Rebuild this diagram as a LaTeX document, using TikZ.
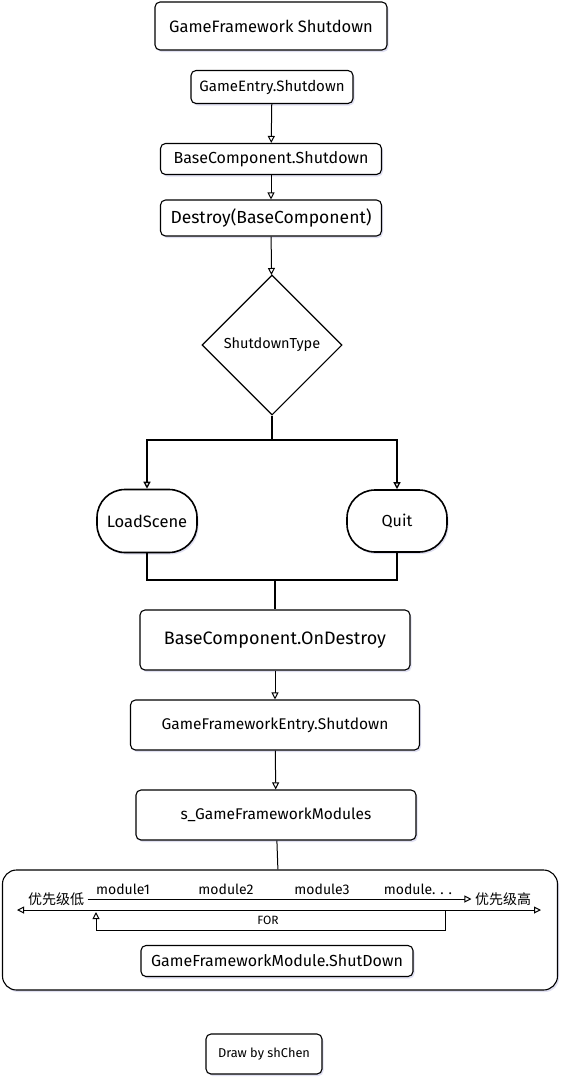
\documentclass[tikz,border=0pt]{standalone}
\usepackage{fontspec}
\setmainfont{Fira Sans}
\newfontfamily\cjk{Noto Sans CJK SC}
\usetikzlibrary{arrows.meta,shapes.geometric,shadows}

\tikzset{
  box/.style={draw,line width=1.1pt,rounded corners=5pt,fill=white,inner sep=0pt,
    drop shadow={opacity=0.18,fill=blue!40!gray,shadow xshift=1.5pt,shadow yshift=-2pt}},
  flow/.style={line width=1pt,-{Triangle[open,length=7pt,width=7pt]}},
  wire/.style={line width=1.3pt},
  fs/.style={font=\fontsize{#1}{#1}\selectfont}
}

\begin{document}
\begin{tikzpicture}[x=1pt,y=-1pt]
\useasboundingbox (0,0) rectangle (568,1085);
\node[box,fs=16.5,minimum width=232,minimum height=48] (title) at (271,26){GameFramework Shutdown};
\node[box,fs=15,minimum width=162,minimum height=33] (entry) at (272,87){GameEntry.Shutdown};
\node[box,fs=16,minimum width=221,minimum height=31] (base) at (271,159){BaseComponent.Shutdown};
\node[box,fs=17.5,minimum width=221,minimum height=36] (destroy) at (271,218){Destroy(BaseComponent)};
\node[draw,line width=1.1pt,diamond,aspect=1,minimum width=140,minimum height=140,inner sep=0pt,fs=14.5] (type) at (272,345){ShutdownType};
\node[box,fs=16.5,rounded corners=28pt,line width=1.6pt,minimum width=100,minimum height=63] (load) at (147,521){LoadScene};
\node[box,fs=16,rounded corners=28pt,line width=1.6pt,minimum width=100,minimum height=62] (quit) at (397,521){Quit};
\node[box,fs=18,minimum width=270,minimum height=60] (ondestroy) at (275,640){BaseComponent.OnDestroy};
\node[box,fs=15.5,minimum width=289,minimum height=50] (fwentry) at (275,725){GameFrameworkEntry.Shutdown};
\node[box,fs=15.5,minimum width=280,minimum height=50] (modules) at (276,815){s\_GameFrameworkModules};
\node[box,rounded corners=14pt,minimum width=555,minimum height=120] (loop) at (280,930){};
\node[fs=14] (low) at (56,899){\cjk 优先级低};
\node[fs=14] (high) at (503,899){\cjk 优先级高};
\node[fs=14] (m1) at (123,889){module1};
\node[fs=14] (m2) at (226,889){module2};
\node[fs=14] (m3) at (322,889){module3};
\node[fs=14] (m4) at (418,889){module. . .};
\node[fs=12] (for) at (268,920){FOR};
\node[box,fs=16,minimum width=272,minimum height=31] (modshut) at (277,961){GameFrameworkModule.ShutDown};
\node[box,fs=12.8,minimum width=116,minimum height=40] (author) at (264,1054){Draw by shChen};
\coordinate (split) at (272,440);
\coordinate (merge) at (275,580);
\coordinate (lend) at (17,910);
\coordinate (rend) at (541,910);
\coordinate (forstart) at (445,910);
\coordinate (forend) at (96,912);
\draw[flow] (entry) -- (base);
\draw[flow] (base) -- (destroy);
\draw[flow] (destroy) -- (type);
\draw[wire] (type) -- (split);
\draw[flow,line width=1.3pt] (split) -| (load);
\draw[flow,line width=1.3pt] (split) -| (quit.north);
\draw[wire] (load) |- (merge);
\draw[wire] (quit) |- (merge);
\draw[wire] (merge) -- (ondestroy);
\draw[flow] (ondestroy) -- (fwentry);
\draw[flow] (fwentry) -- (modules);
\draw[line width=1pt] (modules) -- (loop);
\draw[flow] (low) -- (high);
\draw[line width=1pt,{Triangle[open,length=7pt,width=7pt]}-{Triangle[open,length=7pt,width=7pt]}] (lend) -- (rend);
\draw[flow] (forstart) -- (445,930) -| (forend);
\end{tikzpicture}
\end{document}
